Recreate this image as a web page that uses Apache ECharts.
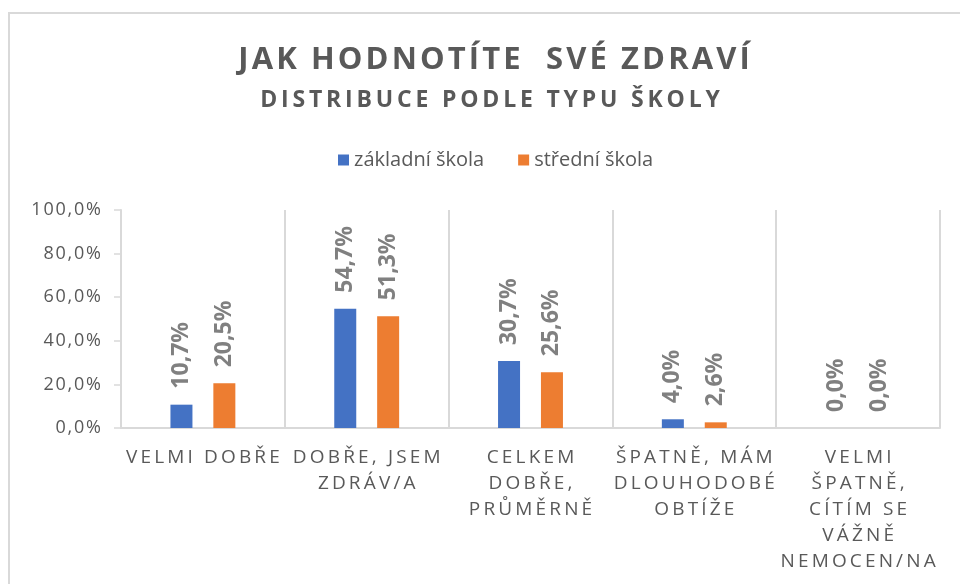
<!DOCTYPE html>
<html>
<head>
<meta charset="utf-8">
<script src="https://cdn.jsdelivr.net/npm/echarts@6/dist/echarts.min.js"></script>
<style>
  html, body { margin: 0; padding: 0; background: #ffffff; }
  #chart { width: 960px; height: 584px; }
</style>
</head>
<body>
<div id="chart"></div>
<script>
// Answer categories (shown uppercase, wrapped as drawn under the axis)
const categories = [
  'VELMI DOBŘE',
  'DOBŘE, JSEM\nZDRÁV/A',
  'CELKEM\nDOBŘE,\nPRŮMĚRNĚ',
  'ŠPATNĚ, MÁM\nDLOUHODOBÉ\nOBTÍŽE',
  'VELMI\nŠPATNĚ,\nCÍTÍM SE\nVÁŽNĚ\nNEMOCEN/NA'
];
const seriesNames = ['základní škola', 'střední škola'];
// Share of respondents, in percent
const zakladniSkola = [10.7, 54.7, 30.7, 4.0, 0.0];
const stredniSkola = [20.5, 51.3, 25.6, 2.6, 0.0];
const yTicks = { min: 0, max: 100, interval: 20 };

const titleText = 'JAK HODNOTÍTE  SVÉ ZDRAVÍ';
const subtitleText = 'DISTRIBUCE PODLE TYPU ŠKOLY';

const TEXT = '#595959';
const LINE = '#d9d9d9';
const FONT = '"Open Sans", "DejaVu Sans", sans-serif';

// Widen the tracking of a string by putting a narrow space between glyphs
function track(s, gap) {
  return s.split('\n').map(line => Array.from(line).join(gap)).join('\n');
}
const pct = v => v.toFixed(1).replace('.', ',') + '%';

const chart = echarts.init(document.getElementById('chart'), null, { renderer: 'canvas' });

chart.setOption({
  animation: false,
  backgroundColor: '#ffffff',
  textStyle: { fontFamily: FONT },
  graphic: [{
    type: 'rect',
    shape: { x: 9, y: 13, width: 1000, height: 1000 },
    style: { fill: null, stroke: LINE, lineWidth: 2 },
    silent: true
  }],
  title: [{
    text: track(titleText, '\u200A'),
    left: 489,
    top: 40,
    textAlign: 'center',
    textStyle: { fontFamily: FONT, fontSize: 31, fontWeight: 'bold', color: TEXT }
  }, {
    text: track(subtitleText, '\u2009'),
    left: 485,
    top: 84,
    textAlign: 'center',
    textStyle: { fontFamily: FONT, fontSize: 23, fontWeight: 'bold', color: TEXT }
  }],
  legend: {
    left: 333,
    top: 145,
    itemWidth: 11,
    itemHeight: 11,
    itemGap: 34,
    icon: 'rect',
    data: seriesNames,
    textStyle: { fontFamily: FONT, fontSize: 20, color: TEXT }
  },
  grid: { left: 121, right: 20, top: 210, bottom: 156, containLabel: false },
  xAxis: {
    type: 'category',
    data: categories,
    axisLine: { lineStyle: { color: LINE, width: 2 } },
    axisTick: { show: false },
    splitLine: { show: true, lineStyle: { color: LINE, width: 2 } },
    axisLabel: {
      interval: 0,
      margin: 17,
      color: TEXT,
      fontFamily: FONT,
      fontSize: 19,
      lineHeight: 26,
      formatter: v => track(v, '\u2009')
    }
  },
  yAxis: {
    type: 'value',
    min: yTicks.min,
    max: yTicks.max,
    interval: yTicks.interval,
    axisLine: { show: true, lineStyle: { color: LINE, width: 2 } },
    axisTick: { show: true, length: 7, lineStyle: { color: LINE, width: 1.5 } },
    splitLine: { show: false },
    axisLabel: {
      margin: 20,
      color: TEXT,
      fontFamily: FONT,
      fontSize: 18,
      formatter: v => track(pct(v), '\u200A')
    }
  },
  series: [zakladniSkola, stredniSkola].map((vals, i) => ({
    name: seriesNames[i],
    type: 'bar',
    data: vals,
    barWidth: 22,
    barGap: '95%',
    itemStyle: { color: i === 0 ? '#4472C4' : '#ED7D31' },
    label: {
      show: true,
      position: 'top',
      distance: 16,
      rotate: 90,
      align: 'left',
      verticalAlign: 'middle',
      fontFamily: FONT,
      fontSize: 23,
      fontWeight: 'bold',
      color: '#808080',
      formatter: p => pct(p.value)
    }
  }))
});
</script>
</body>
</html>
